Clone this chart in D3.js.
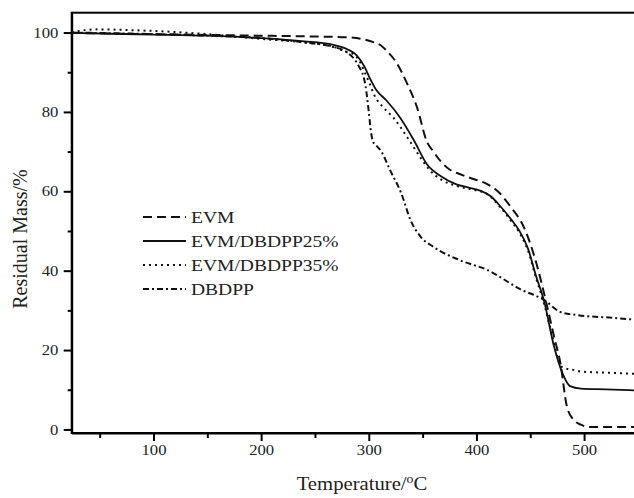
<!DOCTYPE html>
<html>
<head>
<meta charset="utf-8">
<script src="https://cdn.jsdelivr.net/npm/d3@7"></script>
<style>
  body { margin: 0; background: #fff; }
  svg { display: block; }
</style>
</head>
<body>
<div class="chart"></div>
<script>
// TGA curves
const evmT = [24, 50, 100, 150, 200, 250, 280, 295, 305, 311, 318, 326, 335, 345, 354, 360, 367, 375, 382, 395, 410, 421, 432, 444, 455, 465, 472, 478, 484, 490, 497, 505, 520, 550]
const evmM = [99.9, 99.8, 99.6, 99.4, 99.2, 99.0, 98.8, 98.3, 97.5, 96.8, 95, 92.3, 87.5, 81, 72.5, 70, 67.5, 65.5, 64.6, 63.3, 61.8, 59.7, 56, 51, 42.5, 31.8, 23.5, 16.7, 5.8, 2.5, 1.2, 0.6, 0.6, 0.6]

const mix25T = [24, 60, 100, 150, 200, 240, 265, 280, 289, 296, 301, 307, 316, 329, 342, 354, 367, 382, 392, 404, 413, 422, 432, 440, 448, 455, 463, 472, 480, 487, 497, 520, 550]
const mix25M = [99.9, 99.7, 99.5, 99.2, 98.6, 97.8, 97, 95.8, 94.2, 91.4, 88.5, 85.5, 83, 78.6, 72.8, 66.8, 63.8, 61.7, 61.0, 60.1, 58.8, 56.3, 53, 50, 45.5, 39, 32.2, 21, 14.1, 10.9, 10.3, 10.1, 9.8]

const mix35T = [24, 48, 80, 100, 150, 200, 240, 265, 280, 286, 292, 297, 301, 305, 314, 323, 336, 348, 357, 367, 382, 395, 410, 422, 432, 440, 448, 455, 463, 470, 476, 480, 490, 497, 520, 550]
const mix35M = [100.1, 100.8, 100.6, 100.4, 99.6, 98.4, 97.5, 96.6, 95, 94.5, 92.5, 89.5, 87, 84.3, 81, 78.5, 73.5, 68.5, 65.2, 63, 61.3, 60.5, 59.3, 56, 52.6, 49.5, 45, 38.5, 31.5, 24, 17.5, 15.6, 15, 14.6, 14.3, 14.0]

const dbdppT = [24, 100, 150, 200, 240, 265, 280, 291, 295, 297, 300, 302, 304, 307, 311, 320, 330, 339, 348, 360, 385, 410, 441, 463, 478, 494, 528, 550]
const dbdppM = [100, 99.6, 99.2, 98.6, 97.5, 96.5, 95, 91.4, 89, 86.5, 80, 75, 72.5, 71.5, 70.3, 65.2, 59.6, 52.6, 48.6, 46, 42.6, 40.2, 35.3, 32.6, 29.6, 28.8, 28.1, 27.6]

const seriesNames = ['EVM', 'EVM/DBDPP25%', 'EVM/DBDPP35%', 'DBDPP']
const dashes = ['9,5', null, '2,4', '6,3,2,3']

const xMajor = [100, 200, 300, 400, 500]
const xMinor = [50, 150, 250, 350, 450, 550]
const yMajor = [0, 20, 40, 60, 80, 100]
const yMinor = [10, 30, 50, 70, 90]

const width = 634
const height = 498
const font = '"Liberation Serif", "Times New Roman", serif'
const stretch = 'scale(1.15,1)'

const svg = d3.select('.chart')
  .append('svg')
  .attr('width', width)
  .attr('height', height)

const x = d3.scaleLinear().domain([24, 550]).range([71.7, 637.9])
const y = d3.scaleLinear().domain([-0.9, 105]).range([433, 12.7])

// frame
svg.append('rect')
  .attr('x', x(24)).attr('y', y(105))
  .attr('width', x(550) - x(24)).attr('height', y(-0.9) - y(105))
  .attr('fill', 'none').attr('stroke', '#000').attr('stroke-width', 2)

svg.append('clipPath').attr('id', 'plot')
  .append('rect')
  .attr('x', x(24)).attr('y', y(105))
  .attr('width', x(550) - x(24)).attr('height', y(-0.9) - y(105))

// axes
const xAxisGroup = svg.append('g').attr('transform', `translate(0, ${y(-0.9)})`)
xAxisGroup.call(d3.axisBottom(x).tickValues(xMajor).tickSize(8).tickSizeOuter(0).tickFormat(d3.format('d')))
xAxisGroup.selectAll('text').attr('y', 12).attr('dy', '.71em')

const xMinorGroup = svg.append('g').attr('transform', `translate(0, ${y(-0.9)})`)
xMinorGroup.call(d3.axisBottom(x).tickValues(xMinor).tickSize(5).tickSizeOuter(0).tickFormat(''))
xMinorGroup.select('.domain').remove()

const yAxisGroup = svg.append('g').attr('transform', `translate(${x(24)}, 0)`)
yAxisGroup.call(d3.axisLeft(y).tickValues(yMajor).tickSize(8).tickSizeOuter(0))
yAxisGroup.selectAll('text').attr('x', -11.6)

const yMinorGroup = svg.append('g').attr('transform', `translate(${x(24)}, 0)`)
yMinorGroup.call(d3.axisLeft(y).tickValues(yMinor).tickSize(4).tickSizeOuter(0).tickFormat(''))
yMinorGroup.select('.domain').remove()

svg.selectAll('.domain').attr('stroke-width', 2).attr('stroke', '#000')
svg.selectAll('.tick line').attr('stroke-width', 2).attr('stroke', '#000')
svg.selectAll('.tick text')
  .attr('font-family', font)
  .attr('font-size', '14.5px')
  .attr('fill', '#222')
  .attr('transform', stretch)

// curves
const allData = [
  evmT.map((t, i) => [t, evmM[i]]),
  mix25T.map((t, i) => [t, mix25M[i]]),
  mix35T.map((t, i) => [t, mix35M[i]]),
  dbdppT.map((t, i) => [t, dbdppM[i]])
]

const line = d3.line()
  .x(d => x(d[0]))
  .y(d => y(d[1]))
  .curve(d3.curveMonotoneX)

svg.append('g')
  .attr('clip-path', 'url(#plot)')
  .selectAll('path')
  .data(allData)
  .enter()
  .append('path')
  .attr('d', line)
  .attr('fill', 'none')
  .attr('stroke', '#111')
  .attr('stroke-width', (d, i) => i == 1 ? 1.8 : 2)
  .attr('stroke-dasharray', (d, i) => dashes[i])

// legend
const legend = svg.append('g')
const rows = legend.selectAll('g')
  .data(seriesNames)
  .enter()
  .append('g')
  .attr('transform', (d, i) => `translate(143, ${217 + i * 24})`)

rows.append('line')
  .attr('x1', 0).attr('x2', 43)
  .attr('stroke', '#111')
  .attr('stroke-width', 2)
  .attr('stroke-dasharray', (d, i) => dashes[i])

rows.append('text')
  .text(d => d)
  .attr('transform', 'translate(48, 6) ' + stretch)
  .attr('font-family', font)
  .attr('font-size', '17px')
  .attr('fill', '#222')

// titles
svg.append('text')
  .text('Residual Mass/%')
  .attr('transform', 'translate(27, 239) rotate(-90)')
  .attr('text-anchor', 'middle')
  .attr('font-family', font)
  .attr('font-size', '20px')
  .attr('fill', '#222')

const xTitle = svg.append('text')
  .attr('transform', 'translate(362, 490) ' + stretch)
  .attr('text-anchor', 'middle')
  .attr('font-family', font)
  .attr('font-size', '18px')
  .attr('fill', '#222')
xTitle.append('tspan').text('Temperature/')
xTitle.append('tspan').text('o').attr('font-size', '12px').attr('dy', -7)
xTitle.append('tspan').text('C').attr('dy', 7)
</script>
</body>
</html>
